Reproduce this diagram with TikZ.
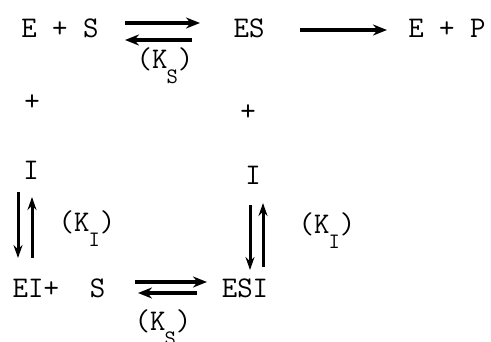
\documentclass[tikz,border=0pt]{standalone}
\usetikzlibrary{arrows.meta}
\newcommand{\kconst}[1]{(K\kern-1pt\raisebox{-15pt}{\fontsize{22}{22}\selectfont #1})}
\tikzset{species/.style={inner sep=0pt,font=\ttfamily\fontsize{30}{32}\selectfont},konst/.style={species,anchor=base},edge/.style={-{Stealth[length=14pt,width=11pt]},line width=3.6pt},vedge/.style={-{Stealth[length=13pt,width=9pt]},line width=3pt}}

\begin{document}
\begin{tikzpicture}[x=1pt,y=-1pt]
\useasboundingbox (0,0) rectangle (491,341);
\node[species] (lhs) at (60,28) {E + S};
\node[species] (es) at (249,28) {ES};
\node[species] (prod) at (447,28) {E + P};
\node[konst] (ks1) at (165,68) {\kconst{S}};
\node[species] (plus1) at (32,103) {+};
\node[species] (plus2) at (248,113) {+};
\node[species] (il) at (31,170) {I};
\node[species] (ir) at (253,175) {I};
\node[konst] (ki1) at (87,231) {\kconst{I}};
\node[konst] (ki2) at (327,233) {\kconst{I}};
\node[species] (eis) at (59,288) {EI+~~S};
\node[species] (esi) at (245,288) {ESI};
\node[konst] (ks2) at (163,330) {\kconst{S}};
\draw[edge] ([shift={(65,-5)}]lhs.center)--([shift={(-49,-5)}]es.center);
\draw[edge] ([shift={(-57,12)}]es.center)--([shift={(65,12)}]lhs.center);
\draw[edge] ([shift={(51,2)}]es.center)--([shift={(-60,2)}]prod.center);
\draw[edge] ([shift={(76,-6)}]eis.center)--([shift={(-38,-6)}]esi.center);
\draw[edge] ([shift={(-48,5)}]esi.center)--([shift={(79,5)}]eis.center);
\draw[vedge] ([shift={(-13,22)}]il.center)--([shift={(-41,-30)}]eis.center);
\draw[vedge] ([shift={(-27,-30)}]eis.center)--([shift={(1,27)}]il.center);
\draw[vedge] ([shift={(-3,30)}]ir.center)--([shift={(5,-18)}]esi.center);
\draw[vedge] ([shift={(18,-21)}]esi.center)--([shift={(10,28)}]ir.center);
\end{tikzpicture}
\end{document}
